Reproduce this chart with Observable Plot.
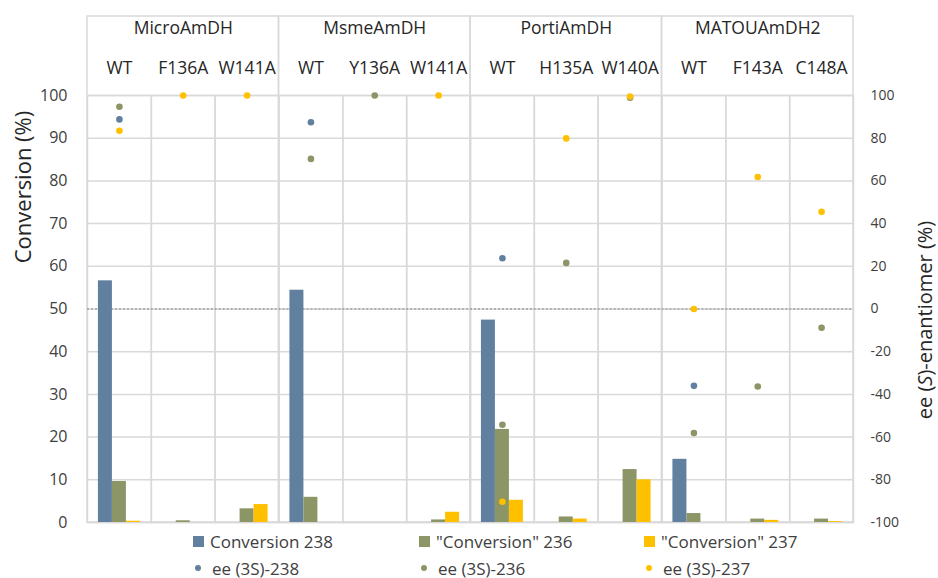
<!DOCTYPE html>
<html>
<head>
<meta charset="utf-8">
<script src="https://cdn.jsdelivr.net/npm/d3@7"></script>
<script src="https://cdn.jsdelivr.net/npm/@observablehq/plot@0.6"></script>
<style>
  html, body { margin: 0; padding: 0; background: #fff; }
  body { font-family: "Open Sans", sans-serif; color: #404040; }
  #legend { position: relative; width: 938px; height: 46px; font-size: 17px; color: #404040; }
  #legend .item { position: absolute; display: flex; align-items: center; white-space: nowrap; height: 24px; }
  #legend .sq { width: 11px; height: 11px; display: inline-block; margin-right: 6px; }
  #legend .dt { width: 6px; height: 6px; border-radius: 50%; display: inline-block; margin-left: 2px; margin-right: 11px; }
</style>
</head>
<body>
<div id="chart"></div>
<div id="legend"></div>
<script>
// ---- data ----
const groups = ["MicroAmDH", "MsmeAmDH", "PortiAmDH", "MATOUAmDH2"];
const variants = [
  ["WT", "F136A", "W141A"],
  ["WT", "Y136A", "W141A"],
  ["WT", "H135A", "W140A"],
  ["WT", "F143A", "C148A"]
];
const seriesIds = ["238", "236", "237"];
const convLabels = ["Conversion 238", "\"Conversion\" 236", "\"Conversion\" 237"];
const eeLabels = ["ee (3S)-238", "ee (3S)-236", "ee (3S)-237"];
const seriesColors = ["#61809f", "#8b9565", "#ffc000"];

// conversion (%) per category, in order of groups × variants
const conv238 = [56.6, null, null, 54.4, null, null, 47.4, null, null, 14.8, null, null];
const conv236 = [9.6, 0.4, 3.2, 5.9, null, 0.6, 21.8, 1.3, 12.4, 2.1, 0.8, 0.8];
const conv237 = [0.3, null, 4.2, null, null, 2.4, 5.2, 0.8, 10.0, null, 0.5, 0.2];
// ee (S)-enantiomer (%) per category
const ee238 = [88.8, null, null, 87.5, null, null, 23.8, null, null, -36.0, null, null];
const ee236 = [94.7, null, null, 70.3, 100, null, -54.2, 21.6, 99.0, -58.1, -36.3, -8.8];
const ee237 = [83.5, 100, 100, null, null, 100, -90.3, 79.9, 99.5, 0.0, 61.8, 45.5];

const convTicks = d3.range(0, 101, 10);
const eeZero = [0];
const leftTitle = "Conversion (%)";
const rightTitle = "ee (S)-enantiomer (%)";

// ---- derived tables ----
const cats = [];
groups.forEach((g, gi) => variants[gi].forEach((v, vi) => cats.push({group: g, variant: v, key: g + "|" + v, gi, vi})));
const keys = cats.map(c => c.key);
const groupRows = groups.map((g, gi) => ({
  name: g,
  first: g + "|" + variants[gi][0],
  middle: g + "|" + variants[gi][1]
}));
const convSeries = [conv238, conv236, conv237];
const eeSeries = [ee238, ee236, ee237];
const convLong = [];
const eeLong = [];
cats.forEach((c, i) => {
  seriesIds.forEach((s, si) => {
    if (convSeries[si][i] != null) convLong.push({key: c.key, series: s, value: convSeries[si][i]});
    if (eeSeries[si][i] != null) eeLong.push({key: c.key, series: s, value: eeSeries[si][i]});
  });
});
// ee axis (-100..100) drawn on the conversion scale (0..100)
const eeToConv = v => (v + 100) / 2;

// ---- layout ----
const W = 938, H = 532, ML = 87, MR = 85, MT = 95, MB = 10;
const facetW = (W - ML - MR) / keys.length;
const headerH = 79;
const gridColor = "#d9d9d9";
const font = "Open Sans";

const plot = Plot.plot({
  width: W,
  height: H,
  marginLeft: ML,
  marginRight: MR,
  marginTop: MT,
  marginBottom: MB,
  style: {fontFamily: font, color: "#404040", background: "#fff"},
  fx: {domain: keys, padding: 0, round: false, axis: null},
  x: {domain: seriesIds, paddingInner: 0, paddingOuter: 0.78, round: false, axis: null},
  y: {domain: [0, 100], axis: null},
  color: {domain: seriesIds, range: seriesColors},
  marks: [
    Plot.ruleY(convTicks, {stroke: gridColor, strokeWidth: 1.5}),
    Plot.frame({stroke: gridColor, strokeWidth: 1.5}),
    Plot.rect(groupRows, {fx: d => d.first, insetTop: -headerH, insetRight: -2 * facetW, fill: "none", stroke: gridColor, strokeWidth: 1.5}),
    Plot.ruleY(eeZero, {y: eeToConv, stroke: "#7f7f7f", strokeWidth: 1.1, strokeDasharray: "2,2"}),
    Plot.barY(convLong, {fx: "key", x: "series", y: "value", fill: "series"}),
    Plot.dot(eeLong, {fx: "key", y: d => eeToConv(d.value), fill: "series", r: 3.3}),
    Plot.text(cats, {fx: "key", text: "variant", frameAnchor: "top", lineAnchor: "middle", dy: -27.5, fontSize: 17.5, fill: "#262626"}),
    Plot.text(groupRows, {fx: d => d.middle, text: "name", frameAnchor: "top", lineAnchor: "middle", dy: -67, fontSize: 17.5, fill: "#262626"}),
    Plot.axisY(convTicks, {anchor: "left", tickSize: 0, tickPadding: 20, fontSize: 16, label: null, fill: "#404040"}),
    Plot.axisY(convTicks, {anchor: "right", tickSize: 0, tickPadding: 17, fontSize: 14, label: null, fill: "#404040",
      tickFormat: d => String(d * 2 - 100)}),
    Plot.text([leftTitle], {fx: () => keys[0], frameAnchor: "left", textAnchor: "middle", lineAnchor: "middle", rotate: -90, dx: -64, dy: -122, fontSize: 22, fill: "#262626"}),
    Plot.text([rightTitle], {fx: () => keys[keys.length - 1], frameAnchor: "right", textAnchor: "middle", lineAnchor: "middle", rotate: -90, dx: 72, dy: 11, fontSize: 20, fill: "#262626"})
  ]
});
document.getElementById("chart").appendChild(plot);

// italic S in the right axis title
plot.querySelectorAll("text").forEach(t => {
  if (t.textContent === rightTitle) {
    const ns = "http://www.w3.org/2000/svg";
    t.textContent = "";
    const parts = [["ee (", null], ["S", "italic"], [")-enantiomer (%)", null]];
    parts.forEach(([s, st]) => {
      const ts = document.createElementNS(ns, "tspan");
      ts.textContent = s;
      if (st) ts.setAttribute("font-style", st);
      t.appendChild(ts);
    });
  }
});

// ---- legend ----
const legend = document.getElementById("legend");
const colLeft = [193, 419, 644];
seriesIds.forEach((s, i) => {
  const a = document.createElement("div");
  a.className = "item";
  a.style.left = colLeft[i] + "px";
  a.style.top = "-3px";
  a.innerHTML = `<span class="sq" style="background:${seriesColors[i]}"></span><span></span>`;
  a.lastChild.textContent = convLabels[i];
  legend.appendChild(a);
  const b = document.createElement("div");
  b.className = "item";
  b.style.left = colLeft[i] + "px";
  b.style.top = "24px";
  b.innerHTML = `<span class="dt" style="background:${seriesColors[i]}"></span><span></span>`;
  b.lastChild.textContent = eeLabels[i];
  legend.appendChild(b);
});
</script>
</body>
</html>
